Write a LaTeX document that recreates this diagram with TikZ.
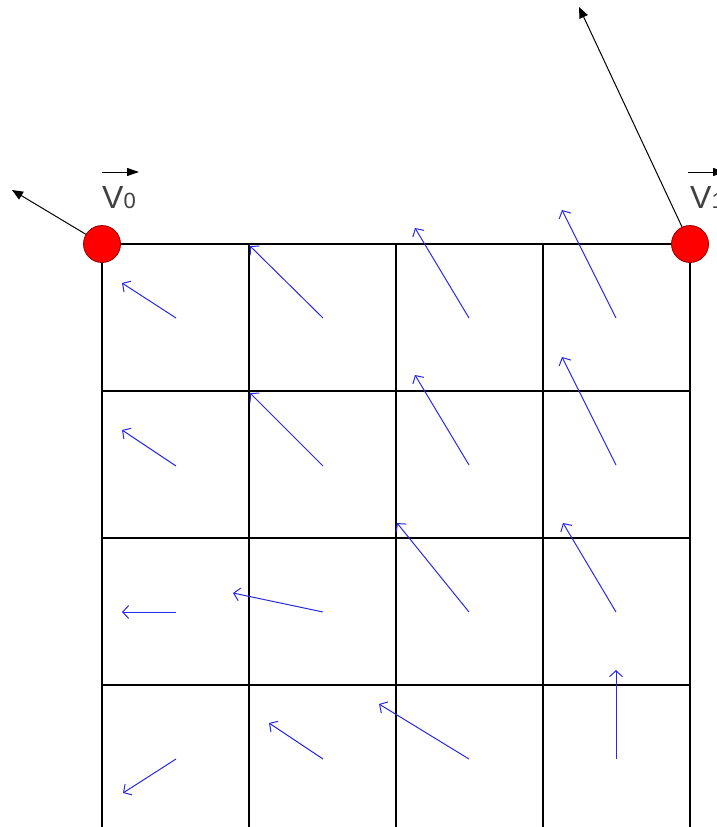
\documentclass[tikz,border=0pt]{standalone}
\usepackage{fontspec}
\setmainfont{Liberation Sans}
\usetikzlibrary{arrows.meta}
\definecolor{vblue}{RGB}{40,40,230}
\definecolor{labgray}{RGB}{64,64,64}
\definecolor{dotborder}{RGB}{150,0,0}
\tikzset{
  gridline/.style={draw=black, line width=1.1pt},
  flow/.style={draw=vblue, line width=1pt, -{Straight Barb[length=6pt,width=13pt]}},
  vel/.style={draw=black, line width=1pt, -{Triangle[length=11pt,width=9pt]}},
  vecbar/.style={draw=black, line width=1pt, -{Triangle[length=12pt,width=8pt]}},
  vertex/.style={circle, fill=red, draw=dotborder, line width=0.8pt, minimum size=37pt, inner sep=0pt},
  lab/.style={anchor=base west, inner sep=0pt, text=labgray}
}
\begin{document}
\begin{tikzpicture}[x=1pt,y=-1pt]
\useasboundingbox (0,0) rectangle (717,827);
% grid
\foreach \x in {102,249,396,543,690} \draw[gridline] (\x,244) -- (\x,827);
\foreach \y in {244,391,538,685} \draw[gridline] (102,\y) -- (690,\y);
% blue flow arrows
\foreach \sx/\sy/\tx/\ty [count=\i] in {
  176/318/122/283, 323/318/250/246, 469/318/415/228, 616/318/562/210,
  176/466/122/430, 323/466/250/393, 469/465/415/375, 616/465/562/357,
  176/612/122/612, 323/612/233/593, 469/612/397/523, 616/612/563/523,
  176/759/123/793, 323/759/269/723, 469/759/379/704, 616/759/616/670} {
  \coordinate (s\i) at (\sx,\sy);
  \coordinate (t\i) at (\tx,\ty);
  \draw[flow] (s\i) -- (t\i);
}
% vertex velocities
\coordinate (v0tip) at (12,190);
\coordinate (v1tip) at (579,7);
\coordinate (v0c) at (102,244);
\coordinate (v1c) at (690,244);
\draw[vel] (v0c) -- (v0tip);
\draw[vel] (v1c) -- (v1tip);
\node[vertex] (v0) at (v0c) {};
\node[vertex] (v1) at (v1c) {};
% labels
\node[lab] (l0) at (102,208) {\fontsize{32}{32}\selectfont V\fontsize{22}{22}\selectfont 0};
\node[lab] (l1) at (690,208) {\fontsize{32}{32}\selectfont V\fontsize{22}{22}\selectfont 1};
\coordinate (a0s) at (102,172); \coordinate (a0e) at (139,172);
\coordinate (a1s) at (688,172); \coordinate (a1e) at (725,172);
\draw[vecbar] (a0s) -- (a0e);
\draw[vecbar] (a1s) -- (a1e);
\end{tikzpicture}
\end{document}
